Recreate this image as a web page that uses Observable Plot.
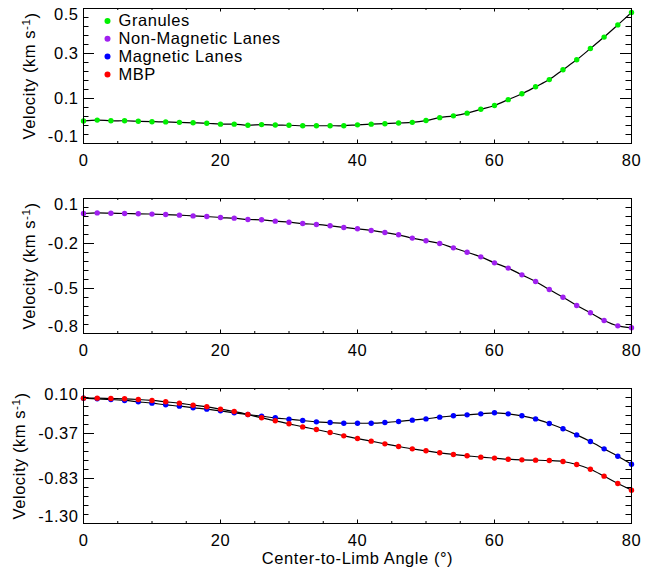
<!DOCTYPE html>
<html><head><meta charset="utf-8">
<script src="https://cdn.jsdelivr.net/npm/d3@7"></script>
<script src="https://cdn.jsdelivr.net/npm/@observablehq/plot@0.6"></script>
<style>
body{margin:0;background:#fff;}
#chart svg{display:block;}
#chart svg text{letter-spacing:0.55px;}
</style></head><body><div id="chart"></div>
<script>
const angles = [0,2,4,6,8,10,12,14,16,18,20,22,24,26,28,30,32,34,36,38,40,42,44,46,48,50,52,54,56,58,60,62,64,66,68,70,72,74,76,78,80];
const granules = [0.000,0.004,0.001,0.001,-0.001,-0.003,-0.004,-0.006,-0.008,-0.010,-0.014,-0.014,-0.019,-0.016,-0.018,-0.019,-0.021,-0.021,-0.021,-0.021,-0.017,-0.014,-0.012,-0.009,-0.006,0.002,0.015,0.023,0.035,0.052,0.069,0.095,0.121,0.152,0.184,0.228,0.272,0.322,0.373,0.427,0.482];
const nonMagneticLanes = [0.000,0.004,0.002,0.000,-0.002,-0.004,-0.007,-0.011,-0.016,-0.020,-0.027,-0.031,-0.040,-0.042,-0.051,-0.058,-0.067,-0.073,-0.082,-0.093,-0.102,-0.113,-0.127,-0.142,-0.164,-0.182,-0.200,-0.229,-0.258,-0.289,-0.329,-0.364,-0.409,-0.453,-0.507,-0.558,-0.613,-0.662,-0.713,-0.749,-0.762];
const magneticLanes = [0.000,-0.007,-0.014,-0.024,-0.038,-0.052,-0.069,-0.083,-0.100,-0.114,-0.132,-0.152,-0.170,-0.187,-0.204,-0.218,-0.232,-0.246,-0.253,-0.260,-0.260,-0.260,-0.253,-0.242,-0.228,-0.215,-0.197,-0.183,-0.173,-0.163,-0.152,-0.163,-0.183,-0.215,-0.263,-0.318,-0.381,-0.450,-0.526,-0.602,-0.685];
const mbp = [0.000,0.000,-0.004,-0.007,-0.014,-0.024,-0.038,-0.052,-0.073,-0.090,-0.114,-0.138,-0.170,-0.204,-0.235,-0.266,-0.298,-0.325,-0.356,-0.391,-0.419,-0.446,-0.474,-0.501,-0.526,-0.546,-0.567,-0.584,-0.598,-0.612,-0.622,-0.633,-0.640,-0.643,-0.647,-0.657,-0.688,-0.737,-0.809,-0.885,-0.954];
const seriesNames = ["Granules","Non-Magnetic Lanes","Magnetic Lanes","MBP"];
const seriesColors = ["#00f000","#a020f0","#0000ff","#ff0000"];
const xTicks = [0,20,40,60,80];
const xMinorTicks = [0,5,10,15,20,25,30,35,40,45,50,55,60,65,70,75,80];
const yLabels1 = ["-0.1","0.1","0.3","0.5"];
const yLabels2 = ["-0.8","-0.5","-0.2","0.1"];
const yLabels3 = ["-1.30","-0.83","-0.37","0.10"];
const yTitle = "Velocity (km s-1)";
const xTitle = "Center-to-Limb Angle (°)";

const W = 654, H = 190, mL = 83, mR = 23, mT = 8, mB = 47;
const fw = W - mL - mR, fh = H - mT - mB;
const FONT = "Liberation Sans, Arial, Helvetica, sans-serif";
const FS = 16.5;

function panel({series, domain, yLabels, legend, titleDx, showXTitle}) {
  const [lo, hi] = domain;
  const majors = d3.range(4).map(i => lo + i * (hi - lo) / 3);
  const minors = d3.range(16).map(i => lo + i * (hi - lo) / 15);
  const marks = [];
  for (const s of series) {
    const rows = angles.map((a, i) => ({a, v: s.values[i]}));
    marks.push(Plot.line(rows, {x: "a", y: "v", curve: "catmull-rom", stroke: "black", strokeWidth: 1.2}));
    marks.push(Plot.dot(rows, {x: "a", y: "v", r: 2.7, fill: s.color, stroke: "none"}));
  }
  marks.push(
    Plot.frame({stroke: "black", strokeWidth: 1}),
    Plot.tickY(minors, {y: d => d, insetRight: fw - 5.5, stroke: "black"}),
    Plot.tickY(majors, {y: d => d, insetRight: fw - 11, stroke: "black"}),
    Plot.tickY(minors, {y: d => d, insetLeft: fw - 5.5, stroke: "black"}),
    Plot.tickY(majors, {y: d => d, insetLeft: fw - 11, stroke: "black"}),
    Plot.tickX(xMinorTicks, {x: d => d, insetTop: fh - 2, stroke: "black"}),
    Plot.tickX(xTicks, {x: d => d, insetTop: fh - 3.5, stroke: "black"}),
    Plot.tickX(xMinorTicks, {x: d => d, insetBottom: fh - 2, stroke: "black"}),
    Plot.tickX(xTicks, {x: d => d, insetBottom: fh - 3.5, stroke: "black"}),
    Plot.text(xTicks, {x: d => d, frameAnchor: "bottom", lineAnchor: "top", dy: 10.5, text: d => String(d), fontSize: FS, fill: "black"}),
    Plot.text([majors[1], majors[2]], {y: d => d, frameAnchor: "left", textAnchor: "end", lineAnchor: "middle", dx: -5, text: (d, i) => yLabels[i + 1], fontSize: FS, fill: "black"}),
    Plot.text([majors[3]], {y: d => d, frameAnchor: "left", textAnchor: "end", lineAnchor: "top", dx: -5, dy: 0, text: () => yLabels[3], fontSize: FS, fill: "black"}),
    Plot.text([majors[0]], {y: d => d, frameAnchor: "left", textAnchor: "end", lineAnchor: "bottom", dx: -5, dy: -2, text: () => yLabels[0], fontSize: FS, fill: "black"}),
    Plot.text([yTitle], {frameAnchor: "left", dx: titleDx, rotate: -90, textAnchor: "middle", lineAnchor: "middle", text: d => d, fontSize: FS, fill: "black"})
  );
  if (legend) {
    seriesNames.forEach((name, i) => {
      marks.push(Plot.dot([name], {frameAnchor: "top-left", dx: 24, dy: 12.5 + i * 17.8, r: 3, fill: seriesColors[i]}));
      marks.push(Plot.text([name], {frameAnchor: "top-left", dx: 35, dy: 12.5 + i * 17.8, text: d => d, textAnchor: "start", lineAnchor: "middle", fontSize: FS, fill: "black"}));
    });
  }
  if (showXTitle) {
    marks.push(Plot.text([xTitle], {frameAnchor: "bottom", dy: 35, lineAnchor: "middle", text: d => d, fontSize: FS, fill: "black"}));
  }
  const svg = Plot.plot({
    width: W, height: H,
    marginLeft: mL, marginRight: mR, marginTop: mT, marginBottom: mB,
    x: {domain: [0, 80], axis: null},
    y: {domain: [lo, hi], axis: null},
    style: {fontFamily: FONT, fontSize: FS + "px", background: "white", color: "black"},
    marks
  });
  d3.select(svg).selectAll("text").filter(function() { return this.textContent === yTitle; }).each(function() {
    const t = d3.select(this);
    t.text(null);
    t.append("tspan").text("Velocity (km s");
    t.append("tspan").attr("dy", "-0.45em").attr("font-size", "0.7em").text("-1");
    t.append("tspan").attr("dy", "0.45em").text(")");
  });
  return svg;
}

const chart = document.getElementById("chart");
chart.append(panel({series: [{values: granules, color: seriesColors[0]}], domain: [-0.1, 0.5], yLabels: yLabels1, legend: true, titleDx: -54}));
chart.append(panel({series: [{values: nonMagneticLanes, color: seriesColors[1]}], domain: [-0.8, 0.1], yLabels: yLabels2, titleDx: -54}));
chart.append(panel({series: [{values: magneticLanes, color: seriesColors[2]}, {values: mbp, color: seriesColors[3]}], domain: [-1.3, 0.1], yLabels: yLabels3, titleDx: -64, showXTitle: true}));
</script></body></html>
